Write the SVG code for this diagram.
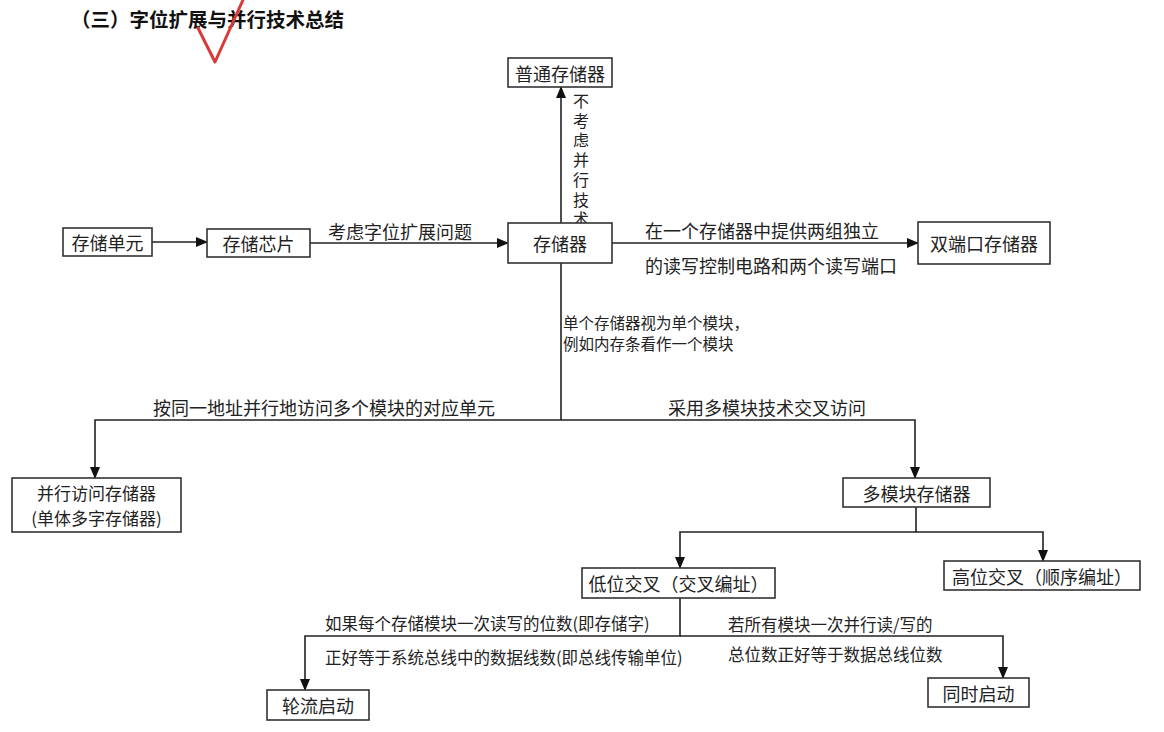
<svg xmlns="http://www.w3.org/2000/svg" width="1164" height="732" viewBox="0 0 1164 732">
<style>
text{font-family:"Noto Sans CJK SC","Noto Sans",sans-serif;fill:#222;dominant-baseline:central}
.n{font-size:18px;text-anchor:middle}
.l{font-size:18px}
.s{font-size:15.5px}
.m{font-size:16.5px}
.box{fill:#fff;stroke:#333;stroke-width:1.6}
.c{fill:none;stroke:#222;stroke-width:1.6}
.t{font-size:19.5px;font-weight:bold;fill:#111}
</style>
<defs>
<marker id="a" markerUnits="userSpaceOnUse" markerWidth="12" markerHeight="10" refX="11" refY="5" orient="auto"><path d="M0,0 L12,5 L0,10 z" fill="#111"/></marker>
</defs>
<rect width="1164" height="732" fill="#fff"/>
<text class="t" x="71" y="18">（三）字位扩展与并行技术总结</text>
<path d="M198,28 L215,62 L243,0" fill="none" stroke="#d83a3a" stroke-width="3" stroke-linecap="round" stroke-linejoin="round"/>
<g id="connectors">
<path class="c" d="M152,242 H207" marker-end="url(#a)"/>
<path class="c" d="M310,243 H508" marker-end="url(#a)"/>
<path class="c" d="M612,243 H918" marker-end="url(#a)"/>
<path class="c" d="M561,223 V87" marker-end="url(#a)"/>
<path class="c" d="M561,263 V420"/>
<path class="c" d="M561,420 H95 V478" marker-end="url(#a)"/>
<path class="c" d="M561,420 H915 V478" marker-end="url(#a)"/>
<path class="c" d="M916,507 V532 H680 V568" marker-end="url(#a)"/>
<path class="c" d="M916,532 H1043 V561" marker-end="url(#a)"/>
<path class="c" d="M680,598 V636 H305 V690" marker-end="url(#a)"/>
<path class="c" d="M680,636 H1003 V678" marker-end="url(#a)"/>
<g id="labels">
<text class="l" x="400" y="231" text-anchor="middle">考虑字位扩展问题</text>
<text class="l" x="645" y="230">在一个存储器中提供两组独立</text>
<text class="l" x="645" y="265">的读写控制电路和两个读写端口</text>
<text x="581" y="93" style="font-size:16px;writing-mode:vertical-rl;letter-spacing:3.7px">不考虑并行技术</text>
<text class="s" x="563" y="322">单个存储器视为单个模块，</text>
<text class="s" x="563" y="343">例如内存条看作一个模块</text>
<text class="l" x="153" y="407">按同一地址并行地访问多个模块的对应单元</text>
<text class="l" x="668" y="407">采用多模块技术交叉访问</text>
<text class="m" x="325" y="623">如果每个存储模块一次读写的位数(即存储字)</text>
<text class="m" x="325" y="657">正好等于系统总线中的数据线数(即总线传输单位)</text>
<text class="m" x="728" y="624">若所有模块一次并行读/写的</text>
<text class="m" x="728" y="654">总位数正好等于数据总线位数</text>
</g>
</g>
<g id="n1"><rect class="box" x="63" y="228" width="89" height="28"/><text class="n" x="107.5" y="242">存储单元</text></g>
<g id="n2"><rect class="box" x="207" y="229" width="103" height="28"/><text class="n" x="258.5" y="243">存储芯片</text></g>
<g id="n3"><rect class="box" x="508" y="223" width="104" height="40"/><text class="n" x="560" y="243">存储器</text></g>
<g id="n4"><rect class="box" x="508" y="58" width="104" height="29"/><text class="n" x="560" y="72.5">普通存储器</text></g>
<g id="n5"><rect class="box" x="918" y="222" width="132" height="42"/><text class="n" x="984" y="243">双端口存储器</text></g>
<g id="n6"><rect class="box" x="12" y="478" width="169" height="54"/><text class="n" x="96.5" y="492.5" style="font-size:17px">并行访问存储器</text><text class="n" x="96.5" y="517.5" style="font-size:17px">(单体多字存储器)</text></g>
<g id="n7"><rect class="box" x="843" y="478" width="147" height="29"/><text class="n" x="916.5" y="492.5">多模块存储器</text></g>
<g id="n8"><rect class="box" x="582" y="568" width="193" height="30"/><text class="n" x="678.5" y="583">低位交叉（交叉编址）</text></g>
<g id="n9"><rect class="box" x="944" y="561" width="196" height="29"/><text class="n" x="1042" y="575.5">高位交叉（顺序编址）</text></g>
<g id="n10"><rect class="box" x="267" y="690" width="102" height="30"/><text class="n" x="318" y="705">轮流启动</text></g>
<g id="n11"><rect class="box" x="928" y="678" width="101" height="29"/><text class="n" x="978.5" y="692.5">同时启动</text></g>
</svg>
